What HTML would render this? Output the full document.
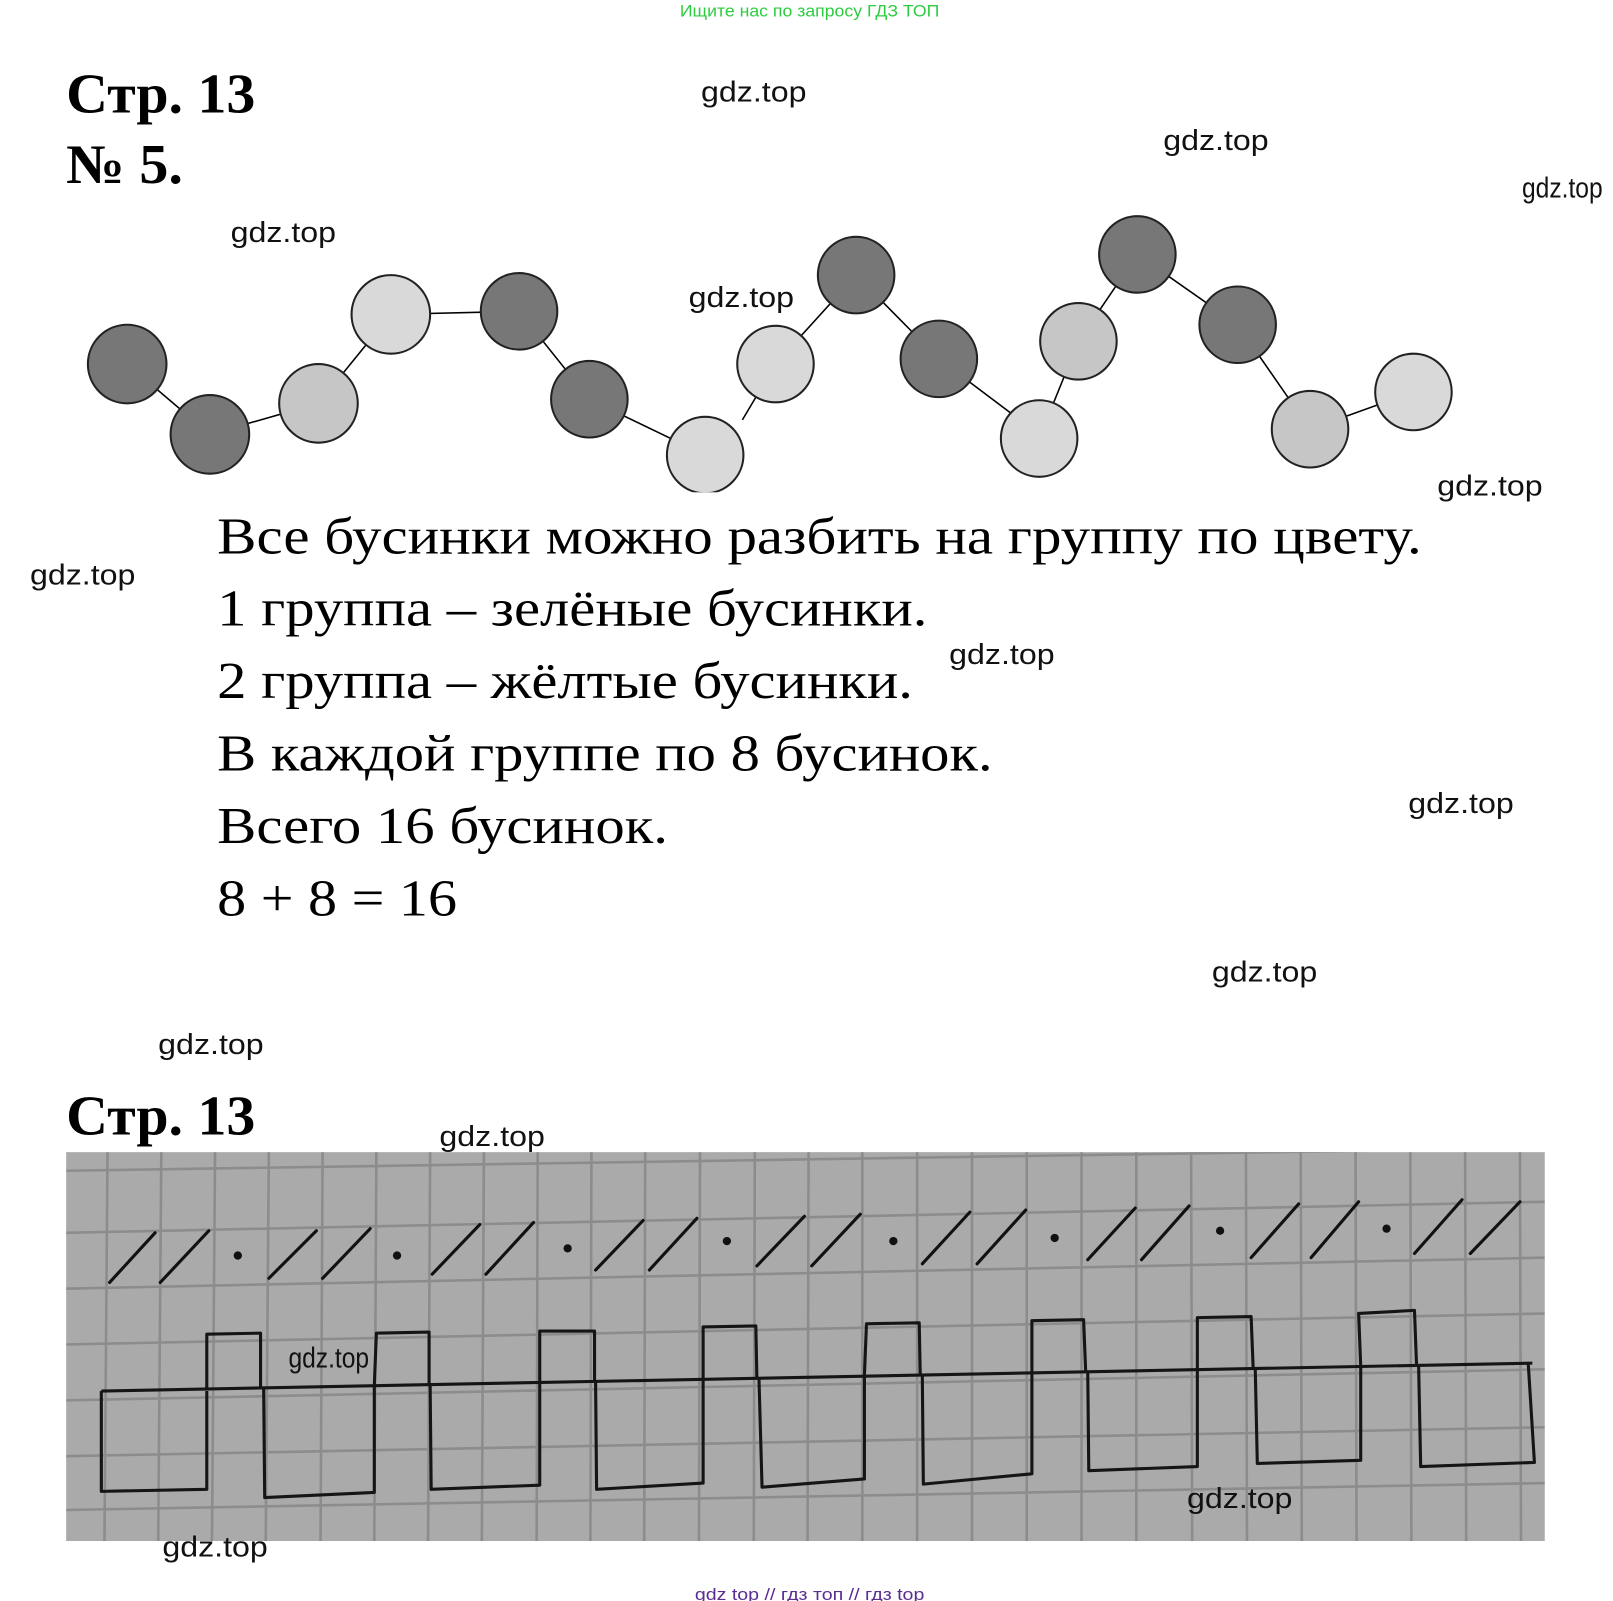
<!DOCTYPE html>
<html><head><meta charset="utf-8"><style>
html,body{margin:0;padding:0;background:#fff;}
svg{display:block;}
.w{font-family:"Liberation Sans",sans-serif;font-size:28px;fill:#111;}
.s{font-family:"Liberation Serif","Noto Serif CJK SC",serif;font-size:50px;fill:#000;}
.h{font-family:"Liberation Serif",serif;font-size:54px;font-weight:bold;fill:#000;}
</style></head><body>
<svg width="1613" height="1601" viewBox="0 0 1560 1548" preserveAspectRatio="none" xmlns="http://www.w3.org/2000/svg">
<defs><clipPath id="ph"><rect x="64" y="1114" width="1430" height="376"/></clipPath></defs>
<rect width="1560" height="1548" fill="#fff"/>
<text x="783" y="16" text-anchor="middle" font-family="Liberation Sans,sans-serif" font-size="16" fill="#2ecc40" textLength="251" lengthAdjust="spacingAndGlyphs">Ищите нас по запросу ГДЗ ТОП</text>
<text class="h" x="64" y="109" textLength="183" lengthAdjust="spacingAndGlyphs">Стр. 13</text>
<text class="h" x="64" y="177" textLength="113" lengthAdjust="spacingAndGlyphs">№ 5.</text>

<g stroke="#000" stroke-width="1.5">
<line x1="123" y1="352" x2="203" y2="420"/>
<line x1="203" y1="420" x2="308" y2="390"/>
<line x1="308" y1="390" x2="378" y2="304"/>
<line x1="378" y1="304" x2="502" y2="301"/>
<line x1="502" y1="301" x2="570" y2="386"/>
<line x1="570" y1="386" x2="682" y2="440"/>
<line x1="718" y1="406" x2="750" y2="352"/>
<line x1="750" y1="352" x2="828" y2="266"/>
<line x1="828" y1="266" x2="908" y2="347"/>
<line x1="908" y1="347" x2="985" y2="405"/>
<line x1="1005" y1="424" x2="1043" y2="330"/>
<line x1="1043" y1="330" x2="1100" y2="246"/>
<line x1="1100" y1="246" x2="1197" y2="314"/>
<line x1="1197" y1="314" x2="1267" y2="415"/>
<line x1="1267" y1="415" x2="1367" y2="379"/>
</g>
<g stroke="#222" stroke-width="2">
<circle cx="123" cy="352" r="38" fill="#777"/>
<circle cx="203" cy="420" r="38" fill="#777"/>
<circle cx="308" cy="390" r="38" fill="#c6c6c6"/>
<circle cx="378" cy="304" r="38" fill="#d9d9d9"/>
<circle cx="502" cy="301" r="37" fill="#777"/>
<circle cx="570" cy="386" r="37" fill="#777"/>
<circle cx="682" cy="440" r="37" fill="#d9d9d9"/>
<circle cx="750" cy="352" r="37" fill="#d9d9d9"/>
<circle cx="828" cy="266" r="37" fill="#777"/>
<circle cx="908" cy="347" r="37" fill="#777"/>
<circle cx="1005" cy="424" r="37" fill="#d9d9d9"/>
<circle cx="1043" cy="330" r="37" fill="#c6c6c6"/>
<circle cx="1100" cy="246" r="37" fill="#777"/>
<circle cx="1197" cy="314" r="37" fill="#777"/>
<circle cx="1267" cy="415" r="37" fill="#c6c6c6"/>
<circle cx="1367" cy="379" r="37" fill="#d9d9d9"/>
</g>
<rect x="600" y="476" width="200" height="30" fill="#fff"/>

<text class="s" x="210" y="535" textLength="1165" lengthAdjust="spacingAndGlyphs">Все бусинки можно разбить на группу по цвету.</text>
<text class="s" x="210" y="605" textLength="687" lengthAdjust="spacingAndGlyphs">1 группа – зелёные бусинки.</text>
<text class="s" x="210" y="675" textLength="673" lengthAdjust="spacingAndGlyphs">2 группа – жёлтые бусинки.</text>
<text class="s" x="210" y="745" textLength="750" lengthAdjust="spacingAndGlyphs">В каждой группе по 8 бусинок.</text>
<text class="s" x="210" y="815" textLength="436" lengthAdjust="spacingAndGlyphs">Всего 16 бусинок.</text>
<text class="s" x="210" y="885" textLength="232" lengthAdjust="spacingAndGlyphs">8 + 8 = 16</text>

<text class="h" x="64" y="1097" textLength="183" lengthAdjust="spacingAndGlyphs">Стр. 13</text>

<rect x="64" y="1114" width="1430" height="376" fill="#aaaaaa"/>
<g stroke="#8c8c8c" stroke-width="2.5" clip-path="url(#ph)">
<line x1="104" y1="1114" x2="101" y2="1490"/><line x1="156" y1="1114" x2="153" y2="1490"/>
<line x1="208" y1="1114" x2="205" y2="1490"/><line x1="260" y1="1114" x2="257" y2="1490"/>
<line x1="312" y1="1114" x2="310" y2="1490"/><line x1="364" y1="1114" x2="362" y2="1490"/>
<line x1="416" y1="1114" x2="414" y2="1490"/><line x1="468" y1="1114" x2="466" y2="1490"/>
<line x1="520" y1="1114" x2="519" y2="1490"/><line x1="572" y1="1114" x2="571" y2="1490"/>
<line x1="624" y1="1114" x2="623" y2="1490"/><line x1="677" y1="1114" x2="676" y2="1490"/>
<line x1="730" y1="1114" x2="729" y2="1490"/><line x1="782" y1="1114" x2="781" y2="1490"/>
<line x1="834" y1="1114" x2="834" y2="1490"/><line x1="887" y1="1114" x2="887" y2="1490"/>
<line x1="940" y1="1114" x2="940" y2="1490"/><line x1="993" y1="1114" x2="993" y2="1490"/>
<line x1="1046" y1="1114" x2="1046" y2="1490"/><line x1="1099" y1="1114" x2="1099" y2="1490"/>
<line x1="1152" y1="1114" x2="1153" y2="1490"/><line x1="1205" y1="1114" x2="1206" y2="1490"/>
<line x1="1258" y1="1114" x2="1259" y2="1490"/><line x1="1311" y1="1114" x2="1312" y2="1490"/>
<line x1="1364" y1="1114" x2="1365" y2="1490"/><line x1="1417" y1="1114" x2="1418" y2="1490"/>
<line x1="1470" y1="1114" x2="1471" y2="1490"/>
<line x1="64" y1="1132" x2="1494" y2="1110"/>
<line x1="64" y1="1192" x2="1494" y2="1162"/>
<line x1="64" y1="1246" x2="1494" y2="1216"/>
<line x1="64" y1="1300" x2="1494" y2="1270"/>
<line x1="64" y1="1354" x2="1494" y2="1324"/>
<line x1="64" y1="1408" x2="1494" y2="1380"/>
<line x1="64" y1="1460" x2="1494" y2="1434"/>
</g>
<g stroke="#111" stroke-width="3" stroke-linecap="round">
<line x1="106" y1="1240" x2="150" y2="1192"/><line x1="155" y1="1240" x2="202" y2="1190"/>
<line x1="260" y1="1236" x2="306" y2="1190"/><line x1="312" y1="1236" x2="358" y2="1188"/>
<line x1="418" y1="1232" x2="464" y2="1184"/><line x1="470" y1="1232" x2="516" y2="1182"/>
<line x1="576" y1="1228" x2="622" y2="1180"/><line x1="628" y1="1228" x2="674" y2="1178"/>
<line x1="732" y1="1224" x2="778" y2="1176"/><line x1="785" y1="1224" x2="832" y2="1174"/>
<line x1="892" y1="1222" x2="938" y2="1172"/><line x1="945" y1="1222" x2="992" y2="1170"/>
<line x1="1052" y1="1218" x2="1098" y2="1168"/><line x1="1104" y1="1218" x2="1150" y2="1166"/>
<line x1="1210" y1="1216" x2="1256" y2="1164"/><line x1="1268" y1="1216" x2="1314" y2="1162"/>
<line x1="1368" y1="1212" x2="1414" y2="1160"/><line x1="1422" y1="1212" x2="1470" y2="1162"/>
</g>
<g fill="#111">
<circle cx="230" cy="1214" r="4"/><circle cx="384" cy="1214" r="4"/><circle cx="549" cy="1207" r="4"/>
<circle cx="703" cy="1200" r="4"/><circle cx="864" cy="1200" r="4"/><circle cx="1020" cy="1197" r="4"/>
<circle cx="1180" cy="1190" r="4"/><circle cx="1341" cy="1188" r="4"/>
</g>
<g stroke="#151515" stroke-width="3" fill="none" stroke-linejoin="round">
<path d="M98 1345 L1482 1318"/>
<path d="M98 1345 L98 1442 L200 1440 L200 1345"/>
<path d="M200 1343 L200 1290 L252 1289 L252 1342"/>
<path d="M255 1342 L256 1448 L362 1443 L362 1340"/>
<path d="M362 1340 L364 1289 L415 1288 L415 1338"/>
<path d="M416 1338 L417 1440 L522 1436 L522 1336"/>
<path d="M522 1336 L522 1287 L575 1287 L575 1335"/>
<path d="M576 1335 L577 1440 L680 1434 L680 1333"/>
<path d="M680 1333 L680 1283 L731 1282 L732 1332"/>
<path d="M734 1332 L737 1438 L836 1430 L836 1330"/>
<path d="M836 1330 L838 1280 L889 1279 L890 1329"/>
<path d="M892 1329 L893 1435 L998 1425 L998 1327"/>
<path d="M998 1327 L998 1277 L1048 1276 L1050 1326"/>
<path d="M1052 1326 L1053 1422 L1158 1418 L1158 1324"/>
<path d="M1158 1324 L1158 1274 L1210 1273 L1212 1323"/>
<path d="M1214 1323 L1216 1415 L1316 1412 L1316 1321"/>
<path d="M1316 1321 L1314 1270 L1368 1267 L1370 1320"/>
<path d="M1372 1320 L1374 1418 L1484 1414 L1478 1318"/>
</g>

<g class="w">
<text class="w" x="678" y="98" textLength="102" lengthAdjust="spacingAndGlyphs">gdz.top</text>
<text class="w" x="1125" y="145" textLength="102" lengthAdjust="spacingAndGlyphs">gdz.top</text>
<text class="w" x="1472" y="191" font-size="22" textLength="78" lengthAdjust="spacingAndGlyphs">gdz.top</text>
<text class="w" x="223" y="234" textLength="102" lengthAdjust="spacingAndGlyphs">gdz.top</text>
<text class="w" x="666" y="297" textLength="102" lengthAdjust="spacingAndGlyphs">gdz.top</text>
<text class="w" x="1390" y="479" textLength="102" lengthAdjust="spacingAndGlyphs">gdz.top</text>
<text class="w" x="29" y="565" textLength="102" lengthAdjust="spacingAndGlyphs">gdz.top</text>
<text class="w" x="918" y="642" textLength="102" lengthAdjust="spacingAndGlyphs">gdz.top</text>
<text class="w" x="1362" y="786" textLength="102" lengthAdjust="spacingAndGlyphs">gdz.top</text>
<text class="w" x="1172" y="949" textLength="102" lengthAdjust="spacingAndGlyphs">gdz.top</text>
<text class="w" x="153" y="1019" textLength="102" lengthAdjust="spacingAndGlyphs">gdz.top</text>
<text class="w" x="425" y="1108" textLength="102" lengthAdjust="spacingAndGlyphs">gdz.top</text>
<text class="w" x="279" y="1322" font-size="22" textLength="78" lengthAdjust="spacingAndGlyphs">gdz.top</text>
<text class="w" x="1148" y="1458" textLength="102" lengthAdjust="spacingAndGlyphs">gdz.top</text>
<text class="w" x="157" y="1505" textLength="102" lengthAdjust="spacingAndGlyphs">gdz.top</text>
</g>
<text x="783" y="1547" text-anchor="middle" font-family="Liberation Sans,sans-serif" font-size="16" fill="#5a2d91" textLength="222" lengthAdjust="spacingAndGlyphs">gdz top // гдз топ // гдз top</text>
</svg>
</body></html>
